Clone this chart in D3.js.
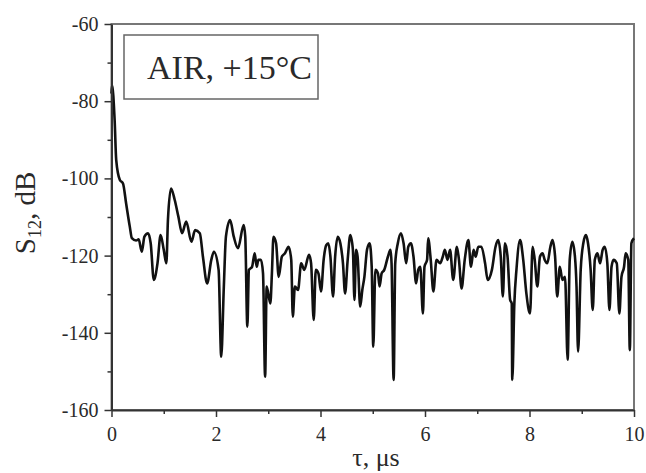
<!DOCTYPE html>
<html>
<head>
<meta charset="utf-8">
<script src="https://cdn.jsdelivr.net/npm/d3@7"></script>
<style>
	body { margin: 0; background: #fff; }
	svg { display: block; }
	text { font-family: "Liberation Serif", "Times New Roman", serif; fill: #2a2a2a; }
	.axis path, .axis line { stroke: #333; }
</style>
</head>
<body>
<svg width="646" height="473"></svg>
<script>
// delay, microseconds
var tau = [0, 0.01, 0.06, 0.09, 0.16, 0.22, 0.28, 0.35, 0.39, 0.47, 0.52, 0.58, 0.63, 0.70, 0.75, 0.81, 0.88, 0.94, 1.00, 1.05,
	1.08, 1.14, 1.21, 1.28, 1.35, 1.43, 1.53, 1.60, 1.69, 1.75, 1.83, 1.91, 1.96, 2.05, 2.10, 2.15, 2.19, 2.27, 2.34, 2.42,
	2.53, 2.56, 2.60, 2.63, 2.69, 2.74, 2.78, 2.81, 2.86, 2.90, 2.94, 2.97, 3.04, 3.07, 3.10, 3.15, 3.20, 3.26, 3.32, 3.39,
	3.44, 3.47, 3.51, 3.57, 3.63, 3.69, 3.78, 3.82, 3.87, 3.91, 3.96, 4.01, 4.06, 4.11, 4.15, 4.19, 4.24, 4.28, 4.33, 4.38,
	4.43, 4.47, 4.52, 4.57, 4.62, 4.65, 4.68, 4.71, 4.76, 4.80, 4.84, 4.89, 4.94, 4.98, 5.01, 5.05, 5.10, 5.13, 5.17, 5.22,
	5.29, 5.34, 5.36, 5.40, 5.43, 5.48, 5.54, 5.59, 5.64, 5.68, 5.73, 5.78, 5.83, 5.87, 5.91, 5.96, 5.99, 6.04, 6.06, 6.11,
	6.16, 6.22, 6.29, 6.34, 6.38, 6.43, 6.48, 6.54, 6.61, 6.65, 6.70, 6.76, 6.83, 6.88, 6.93, 6.97, 7.02, 7.08, 7.15, 7.20,
	7.28, 7.35, 7.40, 7.45, 7.49, 7.53, 7.58, 7.63, 7.66, 7.67, 7.71, 7.75, 7.82, 7.88, 7.94, 8.01, 8.06, 8.10, 8.15, 8.20,
	8.25, 8.29, 8.34, 8.40, 8.44, 8.49, 8.53, 8.58, 8.63, 8.68, 8.73, 8.77, 8.82, 8.87, 8.90, 8.93, 8.98, 9.03, 9.08, 9.12,
	9.17, 9.21, 9.25, 9.30, 9.35, 9.40, 9.44, 9.49, 9.53, 9.57, 9.61, 9.67, 9.72, 9.76, 9.81, 9.84, 9.89, 9.92, 9.95, 10.0];

// S12, dB
var s12 = [-78, -75.8, -84.9, -95.2, -100.4, -101.3, -106.5, -112.5, -115.5, -116.1, -115.8, -119, -115.1, -114.2, -116.8, -126.3, -122, -114.7, -118.5, -122,
	-110.8, -102.6, -105.6, -109.9, -114.2, -111.2, -116.4, -113.4, -114.2, -120.3, -127.2, -121.1, -119, -123.7, -146.2, -128, -115.1, -110.8, -115.1, -118.1,
	-112.1, -115.1, -138.4, -123.7, -122.9, -119.4, -122.9, -121.1, -121.1, -124.6, -151.4, -128, -132.4, -124.6, -115.1, -116.8, -125.5, -120.3, -119.4, -117.7,
	-121.1, -135.8, -128, -128.9, -122, -123.7, -119.8, -122, -136.7, -123.7, -124.6, -129.3, -121.1, -117.3, -116.8, -120.3, -130.6, -120.3, -115.1, -116.8,
	-122, -129.8, -121.1, -114.7, -118.5, -131.5, -118.5, -120.3, -133.2, -128.9, -125.5, -118.5, -116.8, -122.9, -143.6, -123.7, -124.6, -128, -124.6, -123.7,
	-120.3, -118.5, -122, -152.2, -122, -116.8, -114.2, -116.8, -122, -117.7, -116.8, -120.3, -127.2, -123.7, -122.9, -135, -122.9, -121.1, -115.5, -121.1,
	-129.3, -121.1, -122, -120.3, -118.5, -121.1, -118.5, -126.3, -117.7, -121.1, -128.5, -121.1, -116, -122.9, -118.5, -120.3, -117.7, -117.7, -122, -126.3,
	-123.7, -117.7, -116, -120.3, -130.6, -116.8, -120.3, -131.5, -132.4, -152.2, -132.4, -123.7, -116, -121.1, -129.8, -135, -117.7, -121.1, -128, -120.3,
	-119.4, -121.1, -122, -117.7, -116, -120.3, -130.6, -122.9, -126.3, -125.5, -147, -121.1, -116.4, -120.3, -128, -144.9, -123.7, -116.8, -114.7, -116.8,
	-123.7, -134.1, -121.1, -119.4, -122, -118.5, -117.7, -122, -134.1, -122.9, -121.1, -122, -135, -125.5, -122.9, -119.4, -121.1, -144.5, -116.8, -115.5];

var xTicks = [0, 2, 4, 6, 8, 10];
var yTicks = [-160, -140, -120, -100, -80, -60];
var xMinor = [1, 3, 5, 7, 9];
var yMinor = [-150, -130, -110, -90, -70];

var legendLabel = "AIR, +15°C";

drawChart();

function drawChart() {
	var svg = d3.select("svg");
	var left = 111.5, top = 24, right = 634, bottom = 410;

	var x = d3.scaleLinear().domain([0, 10]).range([left, right]);
	var y = d3.scaleLinear().domain([-160, -60]).range([bottom, top]);

	// frame on top and right is lighter, like the original plot box
	svg.append("rect")
		.attr("x", left)
		.attr("y", top)
		.attr("width", right - left)
		.attr("height", bottom - top)
		.attr("fill", "none")
		.attr("stroke", "#777")
		.attr("stroke-width", 2);

	var line = d3.line()
		.x(function(d, i) { return x(tau[i]); })
		.y(function(d) { return y(d); })
		.curve(d3.curveMonotoneX);

	svg.append("path")
		.datum(s12)
		.attr("d", line)
		.attr("fill", "none")
		.attr("stroke", "#111")
		.attr("stroke-width", 2.6)
		.attr("stroke-linejoin", "round");

	// minor ticks first, the major axis draws over them
	svg.append("g")
		.attr("class", "axis")
		.attr("transform", "translate(0," + bottom + ")")
		.call(d3.axisBottom(x).tickValues(xMinor).tickSize(4).tickFormat(""))
		.call(function(g) { g.select(".domain").remove(); });

	svg.append("g")
		.attr("class", "axis")
		.attr("transform", "translate(" + left + ",0)")
		.call(d3.axisLeft(y).tickValues(yMinor).tickSize(4).tickFormat(""))
		.call(function(g) { g.select(".domain").remove(); });

	svg.append("g")
		.attr("class", "axis")
		.attr("transform", "translate(0," + bottom + ")")
		.call(d3.axisBottom(x).tickValues(xTicks).tickSize(7).tickSizeOuter(0).tickPadding(10));

	svg.append("g")
		.attr("class", "axis")
		.attr("transform", "translate(" + left + ",0)")
		.call(d3.axisLeft(y).tickValues(yTicks).tickSize(7).tickSizeOuter(0).tickPadding(6)
			.tickFormat(function(d) { return "-" + Math.abs(d); }));

	svg.selectAll(".axis .domain").attr("stroke-width", 2);
	svg.selectAll(".axis line").attr("stroke-width", 1.5);
	svg.selectAll(".axis text")
		.style("font-family", "'Liberation Serif', 'Times New Roman', serif")
		.style("font-size", "20px")
		.attr("fill", "#222");

	// axis titles
	svg.append("text")
		.attr("x", 376)
		.attr("y", 466)
		.attr("text-anchor", "middle")
		.style("font-size", "26px")
		.text("τ, μs");

	var yTitle = svg.append("text")
		.attr("transform", "translate(35,213) rotate(-90)")
		.attr("text-anchor", "middle")
		.style("font-size", "29px");
	yTitle.append("tspan").text("S");
	yTitle.append("tspan").attr("dy", 6).style("font-size", "18px").text("12");
	yTitle.append("tspan").attr("dy", -6).text(", dB");

	// legend box
	svg.append("rect")
		.attr("x", 124)
		.attr("y", 35)
		.attr("width", 194)
		.attr("height", 64)
		.attr("fill", "#fff")
		.attr("stroke", "#666")
		.attr("stroke-width", 1.5);

	svg.append("text")
		.attr("x", 147)
		.attr("y", 79)
		.style("font-size", "34px")
		.attr("fill", "#1a1a1a")
		.text(legendLabel);
}
</script>
</body>
</html>
